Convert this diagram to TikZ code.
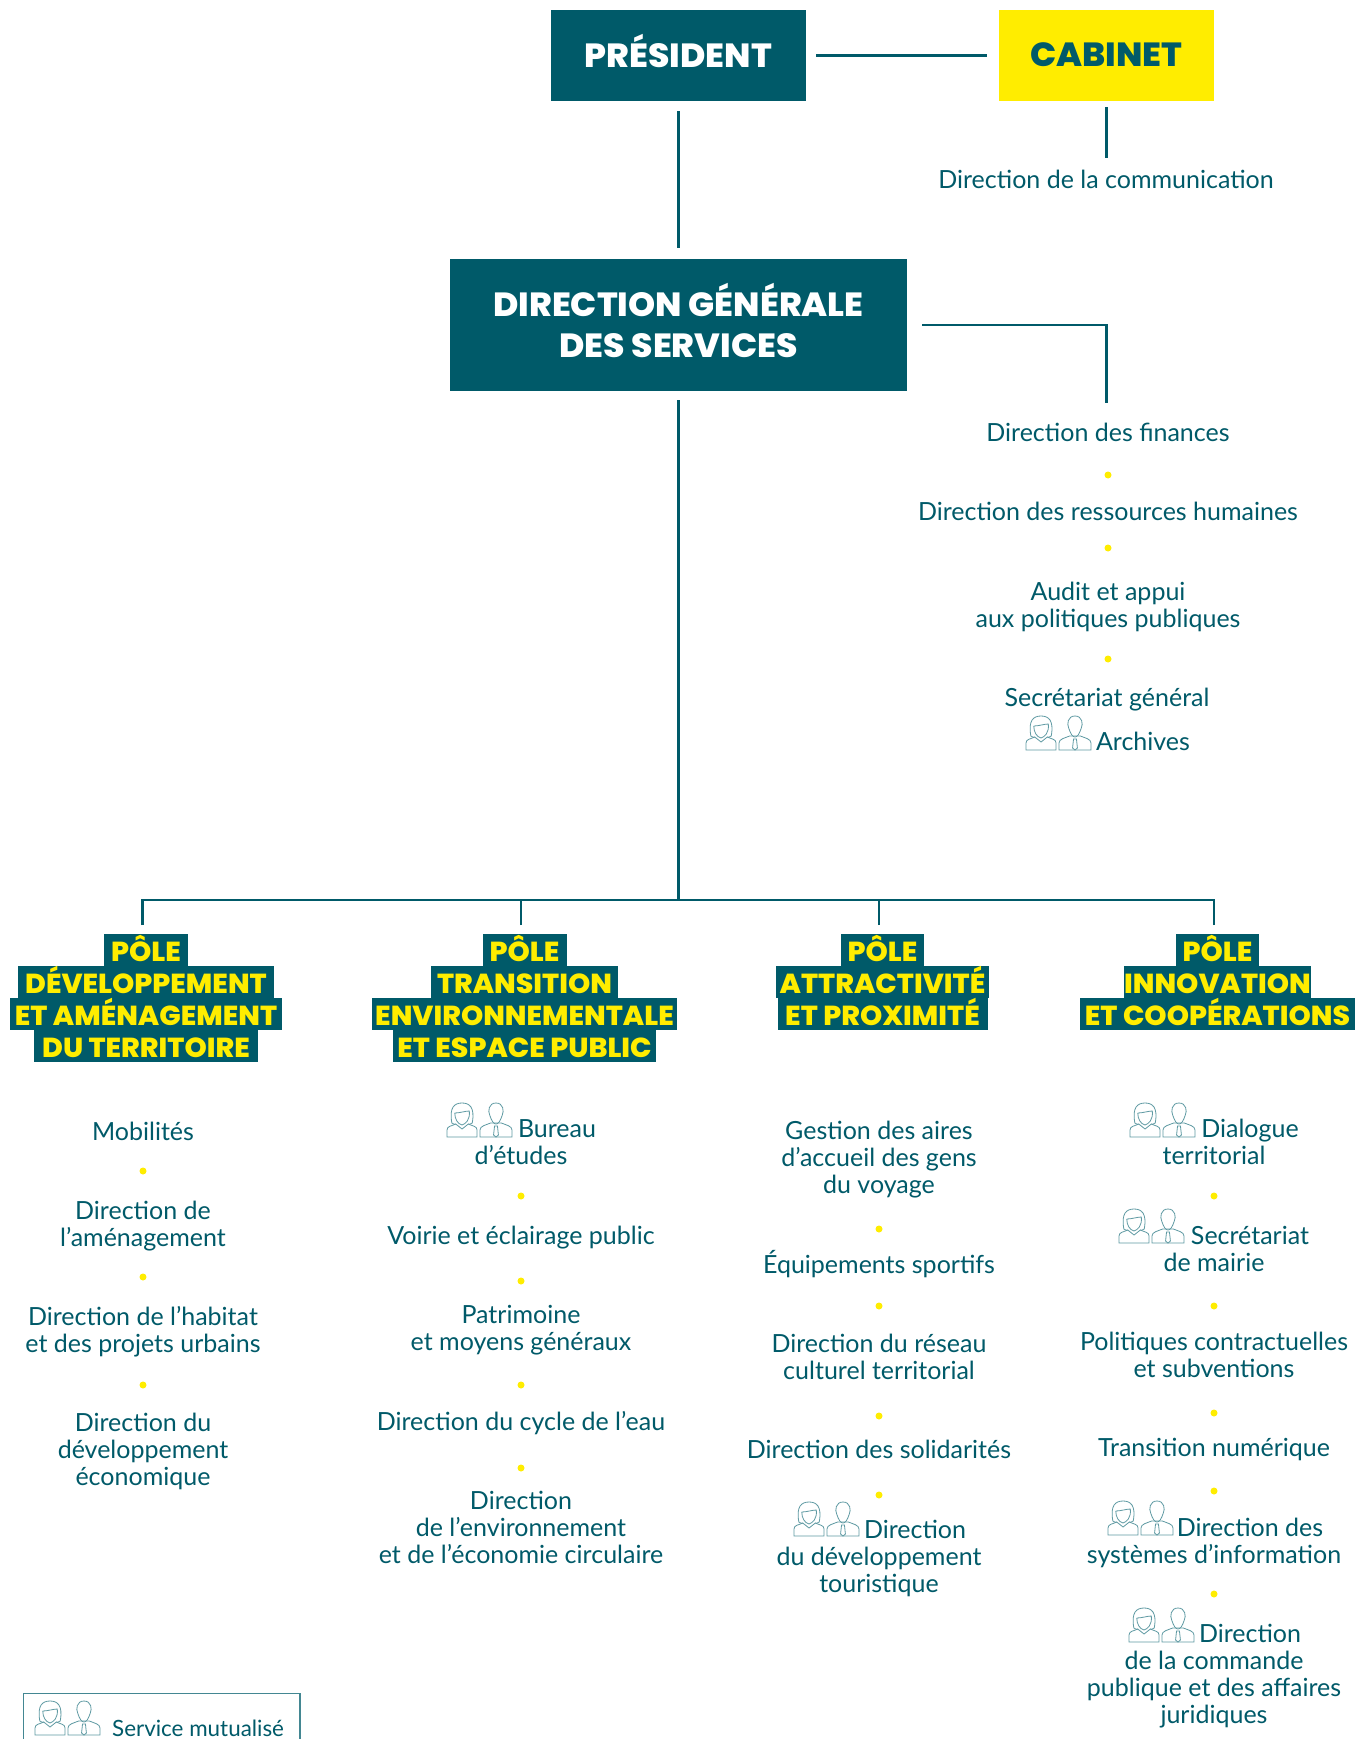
\documentclass[tikz,border=0pt]{standalone}
\usepackage{fontspec}
\setmainfont{Lato}
\newfontfamily\headfont[FakeStretch=1.03]{Poppins ExtraBold}
\usetikzlibrary{calc}
\definecolor{teal}{HTML}{005A69}
\definecolor{sun}{HTML}{FFED00}
\definecolor{iconc}{HTML}{5F9AA3}
\newcommand{\hS}{\rule[-9.5pt]{0pt}{41pt}}
\tikzset{
 x=1pt,y=-1pt,
 txt/.style={inner sep=0pt,align=center,text=teal,font=\fontsize{25}{27}\selectfont},
 bigbox/.style={inner sep=0pt,align=center,font=\headfont\fontsize{33.5}{41}\selectfont},
 pole/.style={fill=teal,text=sun,inner sep=0pt,minimum height=32.3pt,text height=23.5pt,text depth=0pt,font=\headfont\fontsize{27.5}{32}\selectfont},
 conn/.style={draw=teal,line width=2.8pt},
 dotm/.style={circle,fill=sun,inner sep=0pt,minimum size=7pt},
 duo/.pic={
  \begin{scope}[xscale=0.97,iconc,line width=0.8pt,fill=white]
  % woman
  \draw (0,0) -- (0,-7) .. controls (0,-11) and (5,-11) .. (9,-13) -- (15.5,-8) -- (22,-13) .. controls (26,-11) and (31,-11) .. (31,-7) -- (31,0) -- cycle;
  \draw (5,-14) .. controls (2,-30) and (8,-34) .. (15.5,-34) .. controls (23,-34) and (29,-30) .. (26,-14) .. controls (24.5,-12) and (22,-13) .. (22,-13);
  \draw (5,-14) .. controls (6.5,-12) and (9,-13) .. (9,-13);
  \draw (8,-24) .. controls (13,-24) and (19,-26) .. (23,-26) .. controls (24,-17) and (19,-13) .. (15.5,-12) .. controls (11,-13) and (8,-18) .. (8,-24);
  % man
  \draw (34,0) -- (34,-7) .. controls (34,-11) and (40,-12) .. (45,-14) -- (56,-14) .. controls (61,-12) and (67,-11) .. (67,-7) -- (67,0) -- cycle;
  \draw (50.5,-34) .. controls (43,-34) and (42,-26) .. (44,-22) .. controls (46,-16) and (48,-13) .. (50.5,-13) .. controls (53,-13) and (55,-16) .. (57,-22) .. controls (59,-26) and (58,-34) .. (50.5,-34);
  \draw (49,-11) -- (52,-11) -- (53,-2) -- (50.5,0) -- (48,-2) -- cycle;
  \end{scope}
 }
}
\newcommand{\ent}[4]{\node[txt] (#1) at (#2,#3) {#4};}
\newcommand{\St}{\rule[-6pt]{0pt}{30.8pt}}
\newcommand{\gapicons}{\hspace*{72pt}}
\newcommand{\pl}[5]{\node[pole,minimum width=#4pt] (#1) at (#2,#3) {#5};}
\begin{document}
\begin{tikzpicture}
\lineskiplimit=-100pt
\normallineskiplimit=-100pt
\useasboundingbox (0,0) rectangle (1355,1739);
\fill[white] (0,0) rectangle (1355,1739);

% top boxes
\node[bigbox,fill=teal,text=white,minimum width=255pt,minimum height=91pt] (pres) at (678.5,55.5) {\hS PRÉSIDENT};
\node[bigbox,fill=sun,text=teal,minimum width=215pt,minimum height=91pt] (cab) at (1106.5,55.5) {\hS CABINET};
\node[bigbox,fill=teal,text=white,minimum width=457pt,minimum height=132pt] (dgs) at (678.5,325) {\hS DIRECTION GÉNÉRALE\\\hS DES SERVICES};

% side column
\ent{com}{1106}{179}{\St Direction de la communication}
\ent{fin}{1108}{432.5}{\St Direction des finances}
\ent{rh}{1108}{511}{\St Direction des ressources humaines}
\ent{audit}{1108}{605}{\St Audit et appui\\\St aux politiques publiques}
\ent{sec}{1107}{697}{\St Secrétariat général}
\ent{arch}{1107}{741}{\St\gapicons Archives}
\node[dotm] (d1) at (1108,475) {};
\node[dotm] (d2) at (1108,548) {};
\node[dotm] (d3) at (1108,659) {};
\pic at (1026,750) {duo};

% connectors
\draw[conn,shorten <=10pt,shorten >=12pt] (pres.east) -- (cab.west);
\draw[conn,shorten <=10pt,shorten >=11pt] (pres.south) -- (dgs.north);
\coordinate (comtop) at (1106.5,158);
\draw[conn,shorten <=6pt] (cab.south) -- (comtop);
\coordinate (fintop) at (1106.5,403);
\draw[conn,shorten <=15pt] (dgs.east) -| (fintop);
\coordinate (bus) at (678.5,900);
\draw[conn,shorten <=9pt] (dgs.south) -- (bus);
\coordinate (c1) at (142.5,925);
\coordinate (c2) at (521,925);
\coordinate (c3) at (879,925);
\coordinate (c4) at (1214,925);
\draw[conn] (c1) |- (bus);
\draw[conn] (c4) |- (bus);
\draw[conn] (c2) -- (c2 |- bus);
\draw[conn] (c3) -- (c3 |- bus);

% poles
\pl{a1}{146}{950}{84}{PÔLE}
\pl{a2}{146}{982}{256}{DÉVELOPPEMENT}
\pl{a3}{146}{1014}{272}{ET AMÉNAGEMENT}
\pl{a4}{146}{1046}{224.5}{DU TERRITOIRE}
\pl{b1}{524.5}{950}{84}{PÔLE}
\pl{b2}{524.5}{982}{187}{TRANSITION}
\pl{b3}{524.5}{1014}{305}{ENVIRONNEMENTALE}
\pl{b4}{524.5}{1046}{263}{ET ESPACE PUBLIC}
\pl{e1}{882.5}{950}{83}{PÔLE}
\pl{e2}{882.5}{982}{213}{ATTRACTIVITÉ}
\pl{e3}{882.5}{1014}{210}{ET PROXIMITÉ}
\pl{f1}{1217.5}{950}{83}{PÔLE}
\pl{f2}{1217.5}{982}{187}{INNOVATION}
\pl{f3}{1217.5}{1014}{275}{ET COOPÉRATIONS}

% column 1
\ent{k1a}{143}{1131}{\St Mobilités}
\ent{k1b}{143}{1224}{\St Direction de\\\St l’aménagement}
\ent{k1c}{143}{1330}{\St Direction de l’habitat\\\St et des projets urbains}
\ent{k1d}{143}{1449.5}{\St Direction du\\\St développement\\\St économique}
\node[dotm] (k1x) at (143,1171) {};
\node[dotm] (k1y) at (143,1277) {};
\node[dotm] (k1z) at (143,1385) {};

% column 2
\ent{k2a}{521}{1141.5}{\St\gapicons Bureau\\\St d’études}
\ent{k2b}{521}{1235}{\St Voirie et éclairage public}
\ent{k2c}{521}{1328}{\St Patrimoine\\\St et moyens généraux}
\ent{k2d}{521}{1421}{\St Direction du cycle de l’eau}
\ent{k2e}{521}{1527.5}{\St Direction\\\St de l’environnement\\\St et de l’économie circulaire}
\node[dotm] (k2v) at (521,1196) {};
\node[dotm] (k2x) at (521,1281) {};
\node[dotm] (k2y) at (521,1385) {};
\node[dotm] (k2z) at (521,1468) {};
\pic at (447,1137) {duo};

% column 3
\ent{k3a}{879}{1157.5}{\St Gestion des aires\\\St d’accueil des gens\\\St du voyage}
\ent{k3b}{879}{1264}{\St Équipements sportifs}
\ent{k3c}{879}{1357}{\St Direction du réseau\\\St culturel territorial}
\ent{k3d}{879}{1449}{\St Direction des solidarités}
\ent{k3e}{879}{1556.5}{\St\gapicons Direction\\\St du développement\\\St touristique}
\node[dotm] (k3v) at (879,1229) {};
\node[dotm] (k3x) at (879,1306) {};
\node[dotm] (k3y) at (879,1416) {};
\node[dotm] (k3z) at (879,1495) {};
\pic at (794,1536) {duo};

% column 4
\ent{k4a}{1214}{1141.5}{\St\gapicons Dialogue\\\St territorial}
\ent{k4b}{1214}{1248.5}{\St\gapicons Secrétariat\\\St de mairie}
\ent{k4c}{1214}{1355}{\St Politiques contractuelles\\\St et subventions}
\ent{k4d}{1214}{1447}{\St Transition numérique}
\ent{k4e}{1214}{1541}{\St\gapicons Direction des\\\St systèmes d’information}
\ent{k4f}{1214}{1674}{\St\gapicons Direction\\\St de la commande\\\St publique et des affaires\\\St juridiques}
\node[dotm] (k4u) at (1214,1196) {};
\node[dotm] (k4v) at (1214,1306) {};
\node[dotm] (k4x) at (1214,1413) {};
\node[dotm] (k4y) at (1214,1491) {};
\node[dotm] (k4z) at (1214,1594) {};
\pic at (1130,1137) {duo};
\pic at (1119,1243) {duo};
\pic at (1108,1535) {duo};
\pic at (1129,1642) {duo};

% legend
\draw[draw=iconc!70!teal,line width=1.4pt] (23.5,1745) -- (23.5,1693.5) -- (300,1693.5) -- (300,1745);
\pic at (35,1735) {duo};
\node[txt,anchor=west,font=\fontsize{22.4}{27}\selectfont] (leg) at (112,1727) {\St Service mutualisé};
\end{tikzpicture}
\end{document}
